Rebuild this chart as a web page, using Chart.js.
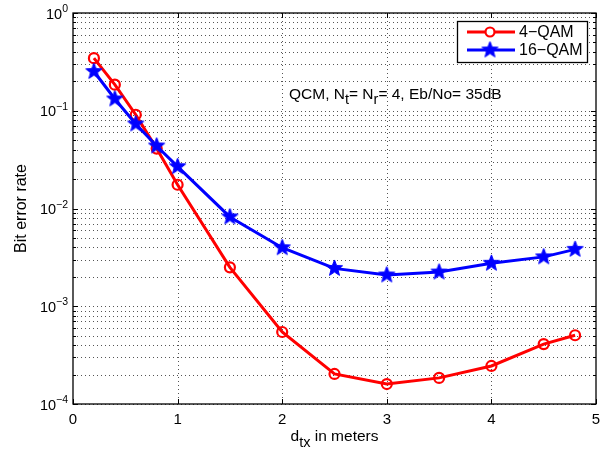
<!DOCTYPE html>
<html><head><meta charset="utf-8">
<script src="https://cdn.jsdelivr.net/npm/chart.js@4"></script>
<style>html,body{margin:0;padding:0;background:#fff}#wrap{width:615px;height:452px}</style>
</head><body><div id="wrap"><canvas id="c" width="615" height="452"></canvas></div>
<script>
const distances = [0.2,0.4,0.6,0.8,1.0,1.5,2.0,2.5,3.0,3.5,4.0,4.5,4.8];
const ber4qam = [0.345,0.185,0.091,0.041,0.0175,0.0025,5.45e-4,2.03e-4,1.6e-4,1.85e-4,2.45e-4,4.1e-4,5.05e-4];
const ber16qam = [0.252,0.132,0.0732,0.0436,0.0268,0.0082,3.97e-3,2.44e-3,2.09e-3,2.24e-3,2.75e-3,3.2e-3,3.82e-3];
const xTicks = [0,1,2,3,4,5];
const yDecades = [-4,-3,-2,-1,0];
const seriesNames = ['4\u2212QAM','16\u2212QAM'];

const FONT = '"Liberation Sans", Arial, Helvetica, sans-serif';
const RED = '#ff0000', BLUE = '#0000ff';

function makeStar(R, r, color) {
  const s = Math.ceil(2 * R + 4);
  const c = document.createElement('canvas');
  c.width = s; c.height = s;
  const g = c.getContext('2d');
  g.beginPath();
  for (let i = 0; i < 10; i++) {
    const a = -Math.PI / 2 + i * Math.PI / 5;
    const rad = i % 2 ? r : R;
    const px = s / 2 + rad * Math.cos(a), py = s / 2 + rad * Math.sin(a);
    if (i === 0) g.moveTo(px, py); else g.lineTo(px, py);
  }
  g.closePath();
  g.fillStyle = color; g.fill();
  g.strokeStyle = color; g.lineWidth = 1; g.stroke();
  return c;
}
const starImg = makeStar(8.5, 3.6, BLUE);

function richText(ctx, segs, x, y, align) {
  let total = 0;
  segs.forEach(s => { ctx.font = s.size + 'px ' + FONT; s.w = ctx.measureText(s.text).width; total += s.w; });
  let cx = align === 'center' ? x - total / 2 : (align === 'right' ? x - total : x);
  ctx.textAlign = 'left'; ctx.textBaseline = 'alphabetic';
  segs.forEach(s => { ctx.font = s.size + 'px ' + FONT; ctx.fillText(s.text, cx, y + (s.dy || 0)); cx += s.w; });
}

const decor = {
  id: 'decor',
  beforeDatasetsDraw(chart) {
    const ctx = chart.ctx, a = chart.chartArea, xs = chart.scales.x, ys = chart.scales.y;
    ctx.save();
    ctx.strokeStyle = '#555'; ctx.lineWidth = 1; ctx.setLineDash([1, 3]);
    xTicks.slice(1, -1).forEach(v => {
      const px = Math.round(xs.getPixelForValue(v)) + 0.5;
      ctx.beginPath(); ctx.moveTo(px, a.top); ctx.lineTo(px, a.bottom); ctx.stroke();
    });
    yDecades.forEach((e, i) => {
      for (let k = 1; k <= 9; k++) {
        if (i === yDecades.length - 1 && k > 1) break;
        const py = Math.round(ys.getPixelForValue(k * Math.pow(10, e))) + 0.5;
        ctx.beginPath(); ctx.moveTo(a.left, py); ctx.lineTo(a.right, py); ctx.stroke();
      }
    });
    ctx.restore();
  },
  afterDraw(chart) {
    const ctx = chart.ctx, a = chart.chartArea, xs = chart.scales.x, ys = chart.scales.y;
    ctx.save();
    ctx.setLineDash([]);
    ctx.strokeStyle = '#000'; ctx.lineWidth = 1.3;
    ctx.strokeRect(a.left, a.top, a.right - a.left, a.bottom - a.top);
    ctx.lineWidth = 1;
    xTicks.forEach(v => {
      const px = Math.round(xs.getPixelForValue(v)) + 0.5;
      ctx.beginPath();
      ctx.moveTo(px, a.bottom); ctx.lineTo(px, a.bottom - 5);
      ctx.moveTo(px, a.top); ctx.lineTo(px, a.top + 5);
      ctx.stroke();
    });
    yDecades.forEach((e, i) => {
      for (let k = 1; k <= 9; k++) {
        if (i === yDecades.length - 1 && k > 1) break;
        const py = Math.round(ys.getPixelForValue(k * Math.pow(10, e))) + 0.5;
        const L = k === 1 ? 5 : 3;
        ctx.beginPath();
        ctx.moveTo(a.left, py); ctx.lineTo(a.left + L, py);
        ctx.moveTo(a.right, py); ctx.lineTo(a.right - L, py);
        ctx.stroke();
      }
    });
    ctx.fillStyle = '#000';
    yDecades.forEach(e => {
      const py = ys.getPixelForValue(Math.pow(10, e));
      const sup = e === 0 ? '0' : '\u2212' + Math.abs(e);
      ctx.font = '10.5px ' + FONT; const sw = ctx.measureText(sup).width;
      ctx.font = '14.5px ' + FONT; const bw = ctx.measureText('10').width;
      const xEnd = a.left - 5;
      ctx.textAlign = 'left'; ctx.textBaseline = 'alphabetic';
      ctx.font = '14.5px ' + FONT; ctx.fillText('10', xEnd - sw - bw, py + 5.5);
      ctx.font = '10.5px ' + FONT; ctx.fillText(sup, xEnd - sw, py - 1);
    });
    ctx.font = '15px ' + FONT; ctx.textAlign = 'center'; ctx.textBaseline = 'alphabetic';
    xTicks.forEach(v => ctx.fillText(String(v), xs.getPixelForValue(v), a.bottom + 20));
    richText(ctx, [{text: 'd', size: 15.5}, {text: 'tx', size: 14.5, dy: 6}, {text: ' in meters', size: 15.5}],
      (a.left + a.right) / 2, a.bottom + 37, 'center');
    ctx.save();
    ctx.translate(26, (a.top + a.bottom) / 2);
    ctx.rotate(-Math.PI / 2);
    ctx.font = '16px ' + FONT; ctx.textAlign = 'center'; ctx.textBaseline = 'alphabetic';
    ctx.fillText('Bit error rate', 0, 0);
    ctx.restore();
    richText(ctx, [
      {text: 'QCM, N', size: 15.5}, {text: 't', size: 14.5, dy: 5}, {text: '= N', size: 15.5},
      {text: 'r', size: 14.5, dy: 5}, {text: '= 4, Eb/No= 35dB', size: 15.5}
    ], 289, 99, 'left');
    const lx = 457, ly = 21, lw = 130, lh = 41;
    ctx.fillStyle = '#fff'; ctx.fillRect(lx, ly, lw, lh);
    ctx.strokeStyle = '#000'; ctx.lineWidth = 1.3; ctx.strokeRect(lx + 0.5, ly + 0.5, lw, lh);
    const rows = [{y: 32, color: RED, name: seriesNames[0]}, {y: 50, color: BLUE, name: seriesNames[1]}];
    rows.forEach((r, i) => {
      ctx.strokeStyle = r.color; ctx.lineWidth = 3;
      ctx.beginPath(); ctx.moveTo(467, r.y); ctx.lineTo(515, r.y); ctx.stroke();
      if (i === 0) {
        ctx.lineWidth = 2.2; ctx.fillStyle = '#fff';
        ctx.beginPath(); ctx.arc(490, r.y, 4.5, 0, Math.PI * 2); ctx.fill(); ctx.stroke();
      } else {
        ctx.drawImage(starImg, 490 - starImg.width / 2, r.y - starImg.height / 2);
      }
      ctx.fillStyle = '#000'; ctx.font = '16px ' + FONT; ctx.textAlign = 'left'; ctx.textBaseline = 'middle';
      ctx.fillText(r.name, 519, r.y + 1);
    });
    ctx.restore();
  }
};

new Chart(document.getElementById('c'), {
  type: 'line',
  data: {
    datasets: [
      {
        label: seriesNames[0], order: 2,
        data: distances.map((d, i) => ({x: d, y: ber4qam[i]})),
        borderColor: RED, backgroundColor: '#fff', borderWidth: 3,
        pointStyle: 'circle', pointRadius: 5, pointBorderWidth: 2.2,
        pointBorderColor: RED, pointBackgroundColor: 'rgba(255,255,255,0)', tension: 0
      },
      {
        label: seriesNames[1], order: 1,
        data: distances.map((d, i) => ({x: d, y: ber16qam[i]})),
        borderColor: BLUE, backgroundColor: BLUE, borderWidth: 3,
        pointStyle: starImg, pointRadius: 8, tension: 0
      }
    ]
  },
  options: {
    responsive: false, animation: false, devicePixelRatio: 1,
    layout: {padding: {left: 73, right: 19, top: 13, bottom: 48}},
    plugins: {legend: {display: false}, tooltip: {enabled: false}},
    scales: {
      x: {type: 'linear', min: 0, max: 5, display: false},
      y: {type: 'logarithmic', min: 1e-4, max: 1, display: false}
    }
  },
  plugins: [decor]
});
</script></body></html>
